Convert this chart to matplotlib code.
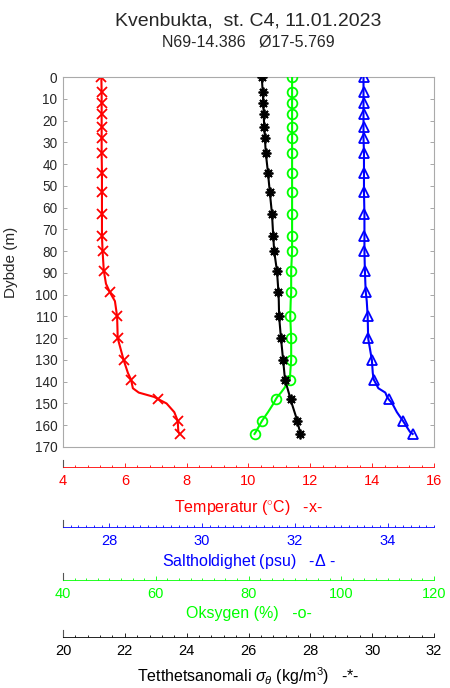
import matplotlib
matplotlib.use('Agg')
import matplotlib.pyplot as plt
from matplotlib.ticker import MultipleLocator

plt.rcParams['font.family'] = ['Liberation Sans', 'DejaVu Sans']
plt.rcParams['mathtext.fontset'] = 'custom'
plt.rcParams['mathtext.rm'] = 'Liberation Sans'
plt.rcParams['mathtext.it'] = 'Liberation Sans:italic'

# CTD-profil, Kvenbukta st. C4
depth = [0, 7, 12, 17, 23, 28, 35, 44, 53, 63, 73, 80, 89, 95, 99, 103, 110, 120,
         130, 136, 139, 143, 145, 147, 148, 150, 154, 158, 163, 164]
temp = [5.24, 5.25, 5.25, 5.25, 5.25, 5.25, 5.25, 5.26, 5.26, 5.26, 5.26, 5.28, 5.32,
        5.39, 5.52, 5.68, 5.75, 5.77, 5.96, 6.10, 6.20, 6.26, 6.45, 6.95, 7.08, 7.35,
        7.60, 7.71, 7.73, 7.78]
salt = [33.48, 33.48, 33.48, 33.48, 33.48, 33.48, 33.49, 33.49, 33.49, 33.50, 33.50,
        33.50, 33.51, 33.52, 33.53, 33.55, 33.57, 33.58, 33.66, 33.68, 33.70, 33.80,
        33.95, 33.99, 34.02, 34.10, 34.20, 34.33, 34.48, 34.54]
oksygen = [89.4, 89.4, 89.4, 89.4, 89.4, 89.4, 89.4, 89.4, 89.4, 89.4, 89.4, 89.4,
           89.2, 89.2, 89.2, 89.1, 89.0, 89.2, 89.2, 89.0, 88.9, 87.7, 87.0, 86.2,
           85.9, 85.4, 84.2, 82.9, 81.6, 81.3]
sigma = [26.43, 26.46, 26.48, 26.49, 26.51, 26.53, 26.56, 26.63, 26.69, 26.76, 26.80,
         26.83, 26.92, 26.95, 26.97, 26.98, 26.99, 27.05, 27.12, 27.16, 27.18, 27.26,
         27.30, 27.34, 27.36, 27.40, 27.49, 27.58, 27.66, 27.68]
# dybder med markør
merk_dybder = [0, 7, 12, 17, 23, 28, 35, 44, 53, 63, 73, 80, 89, 99, 110, 120, 130,
               139, 148, 158, 164]
merk = [depth.index(d) for d in merk_dybder]

W, H = 450, 688
fig = plt.figure(figsize=(W / 100, H / 100), dpi=100)

x0, x1 = 63, 434
ax = fig.add_axes([x0 / W, 1 - 447 / H, (x1 - x0) / W, 370 / H])
ax.set_ylim(170, 0)
ax.set_yticks(range(0, 171, 10))
ax.set_xticks([])
ax.tick_params(axis='y', direction='in', length=3, width=0.6, color='#999999',
               labelsize=9.8, pad=4, right=True, labelcolor='#262626')
for s in ax.spines.values():
    s.set_color('#aaaaaa')
    s.set_linewidth(0.8)
ax.set_ylabel('Dybde (m)', fontsize=11, color='#262626')
ax.yaxis.set_label_coords((18 - x0) / (x1 - x0), 0.5)

# en x-skala per variabel
ranges = {'T': (4, 16), 'S': (27, 35), 'O': (40, 120), 'D': (20, 32)}
ax.set_xlim(*ranges['T'])

def twin(rng):
    a = ax.twiny()
    a.set_xlim(*rng)
    a.set_ylim(170, 0)
    a.axis('off')
    return a

axS = twin(ranges['S'])
axO = twin(ranges['O'])
axD = twin(ranges['D'])

kw = dict(lw=1.5, ms=7, mew=1.3, markevery=merk)
ax.plot(temp, depth, color='red', marker='x', **kw)
axS.plot(salt, depth, color='blue', marker='^', mfc='none', **kw)
axO.plot(oksygen, depth, color='#00ff00', marker='o', mfc='none', **kw)
axD.plot(sigma, depth, color='black', marker=(8, 2, 0), **kw)

fig.text(248 / W, 1 - 21 / H, 'Kvenbukta,  st. C4, 11.01.2023', ha='center',
         va='center', fontsize=14, color='#262626')
fig.text(248 / W, 1 - 42 / H, 'N69-14.386   Ø17-5.769', ha='center', va='center',
         fontsize=11.5, color='#262626')

# separate x-akser under figuren
skalaer = [
    (467, ranges['T'], 2, 0.4, 'red', r'Temperatur ($^{\circ}$C)   -x-', 7),
    (527, ranges['S'], 2, 1 / 6, 'blue', r'Saltholdighet (psu)   -$\Delta$ -', 3),
    (580, ranges['O'], 20, 2.5, '#00ff00', 'Oksygen (%)   -o-', 3.5),
    (637, ranges['D'], 2, 0.4, 'black', r'Tetthetsanomali $\sigma_\theta$ (kg/m$^3$)   -*-', 5.5),
]
for yl, rng, maj, mnr, col, lab, lpad in skalaer:
    b = fig.add_axes([x0 / W, 1 - yl / H, (x1 - x0) / W, 7 / H])
    b.set_xlim(*rng)
    b.set_yticks([])
    b.patch.set_alpha(0)
    b.xaxis.set_major_locator(MultipleLocator(maj))
    b.xaxis.set_minor_locator(MultipleLocator(mnr))
    b.spines['top'].set_visible(False)
    b.spines['right'].set_visible(False)
    b.spines['left'].set_color('#555555')
    b.spines['left'].set_linewidth(0.8)
    b.spines['bottom'].set_color(col)
    b.spines['bottom'].set_linewidth(0.6)
    b.tick_params(axis='x', which='major', direction='in', length=2.6, width=0.6,
                  color=col, labelcolor=col, labelsize=10.5, pad=5)
    b.tick_params(axis='x', which='minor', direction='in', length=1.5, width=0.6,
                  color=col)
    b.set_xlabel(lab, color=col, fontsize=11.5, labelpad=lpad)

fig.savefig('out.png', dpi=100)
